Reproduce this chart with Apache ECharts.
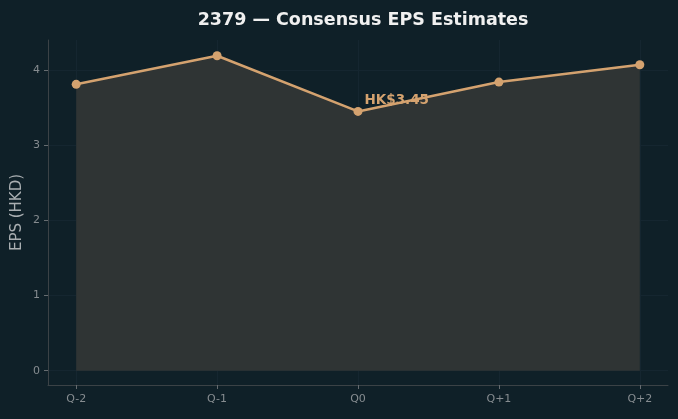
<!DOCTYPE html>
<html>
<head>
<meta charset="utf-8">
<script src="https://cdn.jsdelivr.net/npm/echarts@6/dist/echarts.min.js"></script>
<style>
  html, body { margin: 0; padding: 0; background: #0f2028; }
  #chart { width: 678px; height: 419px; }
</style>
</head>
<body>
<div id="chart"></div>
<script>
// quarters and consensus EPS (HKD)
var quarters = ['Q-2', 'Q-1', 'Q0', 'Q+1', 'Q+2'];
var eps = [3.81, 4.19, 3.45, 3.84, 4.07];
var yTicks = [0, 1, 2, 3, 4];
var highlight = 2; // Q0 gets a label

var xIdx = quarters.map(function (q, i) { return i; });
var points = eps.map(function (v, i) {
  var item = { value: [i, v] };
  if (i === highlight) {
    item.label = {
      show: true,
      formatter: 'HK$' + v.toFixed(2),
      position: [11, -13],
      color: '#d4a26f',
      fontWeight: 'bold',
      fontSize: 13.5,
      fontFamily: 'DejaVu Sans'
    };
  }
  return item;
});

var axisColor = '#3b4246';
var labelColor = '#868c90';
var gridColor = '#152630';

var option = {
  backgroundColor: '#0f2028',
  animation: false,
  title: {
    text: '2379 \u2014 Consensus EPS Estimates',
    left: 358,
    textAlign: 'center',
    top: 6,
    textStyle: { color: '#f0f0f0', fontSize: 17.5, fontWeight: 'bold', fontFamily: 'DejaVu Sans' }
  },
  grid: { left: 48, right: 10, top: 40, bottom: 34, outerBoundsMode: 'none' },
  xAxis: {
    type: 'value',
    min: -0.2,
    max: 4.2,
    axisLine: { show: true, onZero: false, lineStyle: { color: axisColor } },
    axisTick: { show: true, customValues: xIdx, length: 4, lineStyle: { color: '#666c70' } },
    axisLabel: {
      customValues: xIdx,
      formatter: function (v) { return quarters[Math.round(v)]; },
      color: labelColor, fontSize: 11, fontFamily: 'DejaVu Sans', margin: 9
    },
    splitLine: { show: true, lineStyle: { color: gridColor } }
  },
  yAxis: {
    type: 'value',
    min: -0.19,
    max: 4.4,
    name: 'EPS (HKD)',
    nameLocation: 'middle',
    nameGap: 23,
    nameMoveOverlap: false,
    nameTextStyle: { color: '#a9aeb1', fontSize: 15, fontFamily: 'DejaVu Sans' },
    axisLine: { show: true, onZero: false, lineStyle: { color: axisColor } },
    axisTick: { show: true, customValues: yTicks, length: 4, lineStyle: { color: '#666c70' } },
    axisLabel: {
      customValues: yTicks,
      color: labelColor, fontSize: 11, fontFamily: 'DejaVu Sans', margin: 8
    },
    splitLine: { show: true, lineStyle: { color: gridColor } }
  },
  series: [{
    type: 'line',
    data: points,
    symbol: 'circle',
    symbolSize: 9,
    lineStyle: { color: '#d4a26f', width: 2.5 },
    itemStyle: { color: '#d4a26f' },
    areaStyle: { color: '#2f3434', opacity: 1, origin: 0 },
    z: 3
  }]
};

echarts.init(document.getElementById('chart')).setOption(option);
</script>
</body>
</html>
